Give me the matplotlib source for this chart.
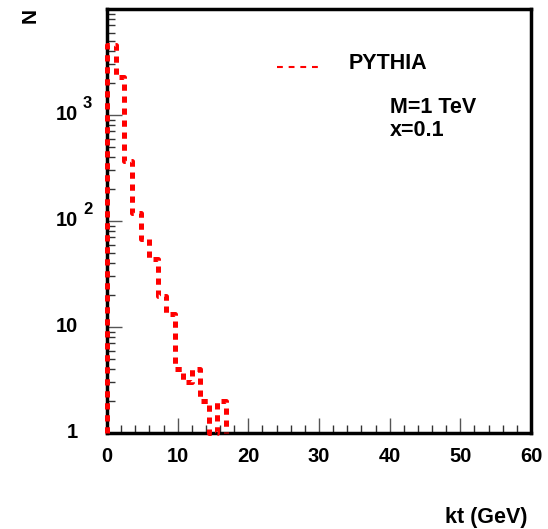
import numpy as np
import matplotlib.pyplot as plt
from matplotlib.ticker import FixedLocator, LogLocator, NullFormatter
from matplotlib.transforms import blended_transform_factory

plt.rcParams['font.family'] = ['Liberation Sans', 'DejaVu Sans']
plt.rcParams['font.weight'] = 'bold'

# kt histogram, 1.2 GeV bins
bin_width = 1.2
counts = [4600, 2290, 365, 118, 68, 44, 19.8, 13.4, 4.0, 3.0, 4.0, 2.0, 1.0, 2.0]
ytick_vals = [1, 10, 100, 1000]
ytick_base = ['1', '10', '10', '10']
ytick_exp = ['', '', '2', '3']

edges = np.arange(len(counts) + 1) * bin_width
xs = np.repeat(edges, 2)
ys = np.concatenate([[1], np.repeat(counts, 2), [1]])

fig = plt.figure(figsize=(5.48, 5.29), dpi=100)
ax = fig.add_axes([0.1953, 0.1815, 0.7737, 0.8015])

ax.plot(xs, ys, color='red', linestyle=(0, (1.25, 1.15)), linewidth=3.6,
        solid_capstyle='butt', dash_capstyle='butt', zorder=3, clip_on=False)

ax.set_yscale('log')
ax.set_xlim(0, 60)
ax.set_ylim(1, 1e4)

for s in ax.spines.values():
    s.set_linewidth(2.5)
    s.set_color('black')

ax.xaxis.set_major_locator(FixedLocator([0, 10, 20, 30, 40, 50, 60]))
ax.xaxis.set_minor_locator(FixedLocator(np.arange(0, 61, 2)))
ax.yaxis.set_major_locator(FixedLocator(ytick_vals))
ax.yaxis.set_major_formatter(NullFormatter())
ax.yaxis.set_minor_locator(LogLocator(base=10, subs=np.arange(2, 10)))
ax.yaxis.set_minor_formatter(NullFormatter())

ax.tick_params(which='major', direction='in', length=11, width=1, color='#555555',
               labelsize=14.5, pad=10)
ax.tick_params(which='minor', direction='in', length=6, width=1, color='#333333')
for lab in ax.get_xticklabels():
    lab.set_fontweight('bold')

# y tick labels, ROOT style "10 ^3" with exponent sticking out to the right
ytrans = blended_transform_factory(fig.transFigure, ax.transData)
for v, base, ex in zip(ytick_vals, ytick_base, ytick_exp):
    ax.text(78 / 548, v, base, transform=ytrans, fontsize=14.5,
            fontweight='bold', ha='right', va='center')
    if ex:
        ax.annotate(ex, xy=(83 / 548, v), xycoords=ytrans,
                    xytext=(0, 8.3), textcoords='offset points',
                    fontsize=12, fontweight='bold', ha='left', va='center')

fig.text(0.055, 0.97, 'N', rotation=90, fontsize=15, fontweight='bold',
         ha='center', va='center')
fig.text(0.888, 0.021, 'kt (GeV)', fontsize=15.5, fontweight='bold',
         ha='center', va='center')

# legend
ax.plot([24.0, 29.85], [10**((432 - 67) / 105.7)] * 2, color='red',
        linestyle=(0, (2.8, 2.8)), linewidth=1.5)
ax.text(34.2, 10**((432 - 64) / 105.7), 'PYTHIA', fontsize=15.5,
        fontweight='bold', va='center', ha='left')
ax.text(40.0, 10**((432 - 107) / 105.7), 'M=1 TeV', fontsize=15.5,
        fontweight='bold', va='center', ha='left')
ax.text(40.0, 10**((432 - 130) / 105.7), 'x=0.1', fontsize=15.5,
        fontweight='bold', va='center', ha='left')

fig.savefig('out.png', dpi=100)
